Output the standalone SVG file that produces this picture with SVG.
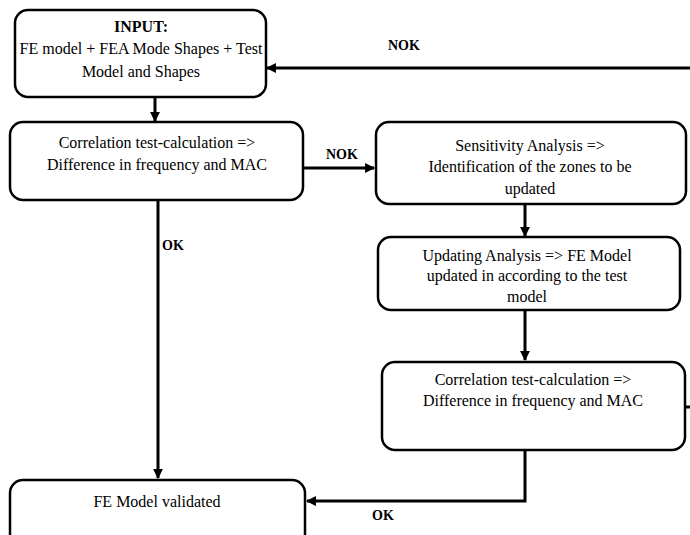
<svg xmlns="http://www.w3.org/2000/svg" width="690" height="535" viewBox="0 0 690 535">
<defs>
<marker id="ah" viewBox="0 0 10 10" refX="9" refY="5" markerWidth="3.3" markerHeight="3.3" orient="auto" markerUnits="strokeWidth">
<path d="M0,0 L10,5 L0,10 z" fill="#000"/>
</marker>
<style>
.box{fill:#fff;stroke:#000;stroke-width:2.5}
text{font-family:'Liberation Serif','Times New Roman','DejaVu Serif',serif}
.t{font-size:16px;fill:#000;text-anchor:middle}
.b{font-weight:bold}
.lbl{font-size:14px;font-weight:bold;fill:#000}
.c{fill:none;stroke:#000;stroke-width:3}
</style>
</defs>
<rect width="690" height="535" fill="#fff"/>
<g id="connectors">
<line class="c" x1="690" y1="68" x2="267" y2="68" marker-end="url(#ah)"/>
<line class="c" x1="155" y1="97" x2="155" y2="121" marker-end="url(#ah)"/>
<line class="c" x1="304" y1="168" x2="374" y2="168" marker-end="url(#ah)"/>
<line class="c" x1="525" y1="205" x2="525" y2="236" marker-end="url(#ah)"/>
<line class="c" x1="525" y1="311" x2="525" y2="360" marker-end="url(#ah)"/>
<line class="c" x1="158" y1="201" x2="158" y2="478" marker-end="url(#ah)"/>
<polyline class="c" points="525,451 525,501 307,501" marker-end="url(#ah)"/>
<line class="c" x1="686" y1="407" x2="690" y2="407"/>
<text class="lbl" x="388" y="50">NOK</text>
<text class="lbl" x="326" y="159">NOK</text>
<text class="lbl" x="162" y="250">OK</text>
<text class="lbl" x="372" y="520">OK</text>
</g>
<g id="input">
<rect class="box" x="15" y="10" width="251" height="87" rx="13"/>
<text class="t b" x="141" y="32">INPUT:</text>
<text class="t" x="141" y="54">FE model + FEA Mode Shapes + Test</text>
<text class="t" x="141" y="77">Model and Shapes</text>
</g>
<g id="corr1">
<rect class="box" x="10" y="122" width="293" height="78" rx="13"/>
<text class="t" x="157" y="148">Correlation test-calculation =&gt;</text>
<text class="t" x="157" y="170">Difference in frequency and MAC</text>
</g>
<g id="sens">
<rect class="box" x="376" y="122" width="310" height="82" rx="13"/>
<text class="t" x="530" y="151">Sensitivity Analysis =&gt;</text>
<text class="t" x="530" y="172">Identification of the zones to be</text>
<text class="t" x="530" y="194">updated</text>
</g>
<g id="update">
<rect class="box" x="378" y="237" width="302" height="73" rx="13"/>
<text class="t" x="527" y="261">Updating Analysis =&gt; FE Model</text>
<text class="t" x="527" y="281">updated in according to the test</text>
<text class="t" x="527" y="302">model</text>
</g>
<g id="corr2">
<rect class="box" x="382" y="362" width="303" height="88" rx="13"/>
<text class="t" x="533" y="385">Correlation test-calculation =&gt;</text>
<text class="t" x="533" y="406">Difference in frequency and MAC</text>
</g>
<g id="validated">
<rect class="box" x="10" y="480" width="295" height="70" rx="13"/>
<text class="t" x="157" y="507">FE Model validated</text>
</g>
</svg>
